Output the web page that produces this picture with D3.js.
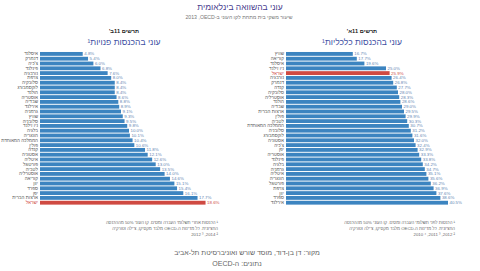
<!DOCTYPE html>
<html>
<head>
<meta charset="utf-8">
<script src="https://cdn.jsdelivr.net/npm/d3@7"></script>
<style>
  body { margin: 0; background: #fff; }
  svg { font-family: "Liberation Sans", "DejaVu Sans", sans-serif; }
  .axis path { display: none; }
  .axis text { fill: #555; font-size: 4.6px; }
</style>
</head>
<body>
<div id="chart"></div>
<script>
// right panel: poverty on market income (before taxes and transfers)
var marketCountries = ["שוויץ", "קוריאה", "איסלנד", "ניו זילנד", "ישראל", "נורבגיה", "דנמרק", "קנדה",
  "סלובקיה", "אוסטרליה", "הולנד", "שבדיה", "ארצות הברית", "פולין", "לטביה", "הממלכה המאוחדת",
  "סלובניה", "לוקסמבורג", "אסטוניה", "צ'כיה", "יפן", "אוסטריה", "פינלנד", "בלגיה",
  "גרמניה", "איטליה", "הונגריה", "פורטוגל", "צרפת", "יוון", "ספרד", "אירלנד"];
var marketValues = [16.7, 17.7, 19.6, 25.0, 25.9, 26.4, 26.8, 27.7,
  28.0, 28.3, 28.6, 29.0, 29.5, 29.9, 30.3, 30.7,
  31.2, 31.6, 32.0, 32.4, 32.9, 33.3, 33.8, 34.2,
  34.7, 35.1, 35.6, 36.2, 36.9, 37.6, 38.6, 40.5];

// left panel: poverty on disposable income (after taxes and transfers)
var dispCountries = ["איסלנד", "דנמרק", "צ'כיה", "פינלנד", "נורבגיה", "צרפת", "סלובקיה", "לוקסמבורג",
  "הולנד", "אוסטריה", "שבדיה", "אירלנד", "גרמניה", "שוויץ", "סלובניה", "ניו זילנד",
  "בלגיה", "הונגריה", "הממלכה המאוחדת", "פולין", "קנדה", "אסטוניה", "איטליה", "פורטוגל",
  "לטביה", "אוסטרליה", "קוריאה", "יוון", "ספרד", "יפן", "ארצות הברית", "ישראל"];
var dispValues = [4.8, 5.4, 6.0, 6.8, 7.6, 8.0, 8.4, 8.4,
  8.4, 8.6, 8.8, 8.9, 9.1, 9.3, 9.5, 9.8,
  10.0, 10.1, 10.4, 10.6, 11.8, 12.1, 12.6, 13.0,
  13.5, 14.0, 14.6, 15.1, 15.4, 16.1, 17.7, 18.6];

var highlight = "ישראל";

var width = 480, height = 271;
var blue = "#3c84c0", red = "#cf4a42";
var RLM = "\u200F";

var svg = d3.select("#chart").append("svg")
    .attr("width", width)
    .attr("height", height);

// titles
svg.append("text")
    .attr("x", 240).attr("y", 10)
    .attr("text-anchor", "middle")
    .attr("direction", "rtl")
    .style("font-size", "8.5px")
    .style("fill", "#473c8e")
    .text("עוני בהשוואה בינלאומית");

svg.append("text")
    .attr("x", 239).attr("y", 19)
    .attr("text-anchor", "middle")
    .attr("direction", "rtl")
    .style("font-size", "5.2px")
    .style("fill", "#777")
    .text("שיעור משקי בית מתחת לקו העוני ב-OECD" + RLM + ", 2013");

function drawPanel(opts) {
  var g = svg.append("g");

  g.append("text")
      .attr("x", opts.cx).attr("y", 33)
      .attr("text-anchor", "middle")
      .attr("direction", "rtl")
      .style("font-size", "5.6px")
      .style("font-weight", "bold")
      .style("fill", "#222")
      .text(opts.header);

  g.append("text")
      .attr("x", opts.cx).attr("y", 45)
      .attr("text-anchor", "middle")
      .attr("direction", "rtl")
      .style("font-size", "8.5px")
      .style("fill", "#3e4fa3")
      .text(opts.title);

  var y = d3.scaleBand()
      .domain(opts.countries)
      .range([51.5, 205.1])
      .paddingInner(0.2)
      .paddingOuter(0.1);

  var x = d3.scaleLinear()
      .domain(opts.domain)
      .range(opts.range);

  var data = opts.countries.map(function(c, i) { return { name: c, value: opts.values[i] }; });

  g.append("g")
      .attr("class", "axis")
      .attr("transform", "translate(" + (opts.range[0] - 1) + ",0)")
      .call(d3.axisLeft(y).tickSize(0).tickPadding(1))
      .selectAll("text")
      .style("fill", function(d) { return d === highlight ? red : "#555"; });

  g.selectAll(".bar")
      .data(data)
      .enter()
      .append("rect")
      .attr("class", "bar")
      .attr("x", x(0))
      .attr("y", function(d) { return y(d.name); })
      .attr("width", function(d) { return x(d.value) - x(0); })
      .attr("height", y.bandwidth())
      .attr("fill", function(d) { return d.name === highlight ? red : blue; });

  g.selectAll(".val")
      .data(data)
      .enter()
      .append("text")
      .attr("class", "val")
      .attr("x", function(d) { return x(d.value) + 1.5; })
      .attr("y", function(d) { return y(d.name) + y.bandwidth() / 2; })
      .attr("dy", "0.35em")
      .style("font-size", "4.4px")
      .style("fill", function(d) { return d.name === highlight ? red : "#5f86b3"; })
      .text(function(d) { return d.value.toFixed(1) + "%"; });

  opts.notes.forEach(function(line, i) {
    g.append("text")
        .attr("x", opts.noteRight)
        .attr("y", 224 + i * 6)
        .attr("text-anchor", "start")
        .attr("direction", "rtl")
        .style("font-size", "4.3px")
        .style("fill", "#666")
        .text(line);
  });

  // year markers line, written in visual order
  g.append("text")
      .attr("x", opts.noteRight)
      .attr("y", 224 + opts.notes.length * 6)
      .attr("text-anchor", "end")
      .style("font-size", "4.3px")
      .style("fill", "#666")
      .text(opts.years);
}

drawPanel({
  header: "תרשים 11א'",
  title: "עוני בהכנסות כלכליות¹",
  cx: 362,
  countries: marketCountries,
  values: marketValues,
  domain: [0, 45],
  range: [286, 466],
  noteRight: 455,
  notes: ["¹ הכנסות לפני תשלומי העברה ומסים. קו העוני 50% מההכנסה",
          "החציונית. כל מדינות ה-OECD מלבד מקסיקו, צ'ילה וטורקיה"],
  years: "2010 ⁴ ,2011 ³ ,2012 ²"
});

drawPanel({
  header: "תרשים 11ב'",
  title: "עוני בהכנסות פנויות¹",
  cx: 124,
  countries: dispCountries,
  values: dispValues,
  domain: [0, 20],
  range: [40, 218],
  noteRight: 218,
  notes: ["¹ הכנסות אחרי תשלומי העברה ומסים. קו העוני 50% מההכנסה",
          "החציונית. כל מדינות ה-OECD מלבד מקסיקו, צ'ילה וטורקיה"],
  years: "2012 ³ ,2014 ²"
});

// source
svg.append("text")
    .attr("x", 247).attr("y", 255)
    .attr("text-anchor", "middle")
    .attr("direction", "rtl")
    .style("font-size", "7px")
    .style("fill", "#666")
    .text("מקור: דן בן-דוד, מוסד שורש ואוניברסיטת תל-אביב");

svg.append("text")
    .attr("x", 237).attr("y", 266)
    .attr("text-anchor", "middle")
    .attr("direction", "rtl")
    .style("font-size", "7px")
    .style("fill", "#666")
    .text("נתונים: ה-OECD");
</script>
</body>
</html>
